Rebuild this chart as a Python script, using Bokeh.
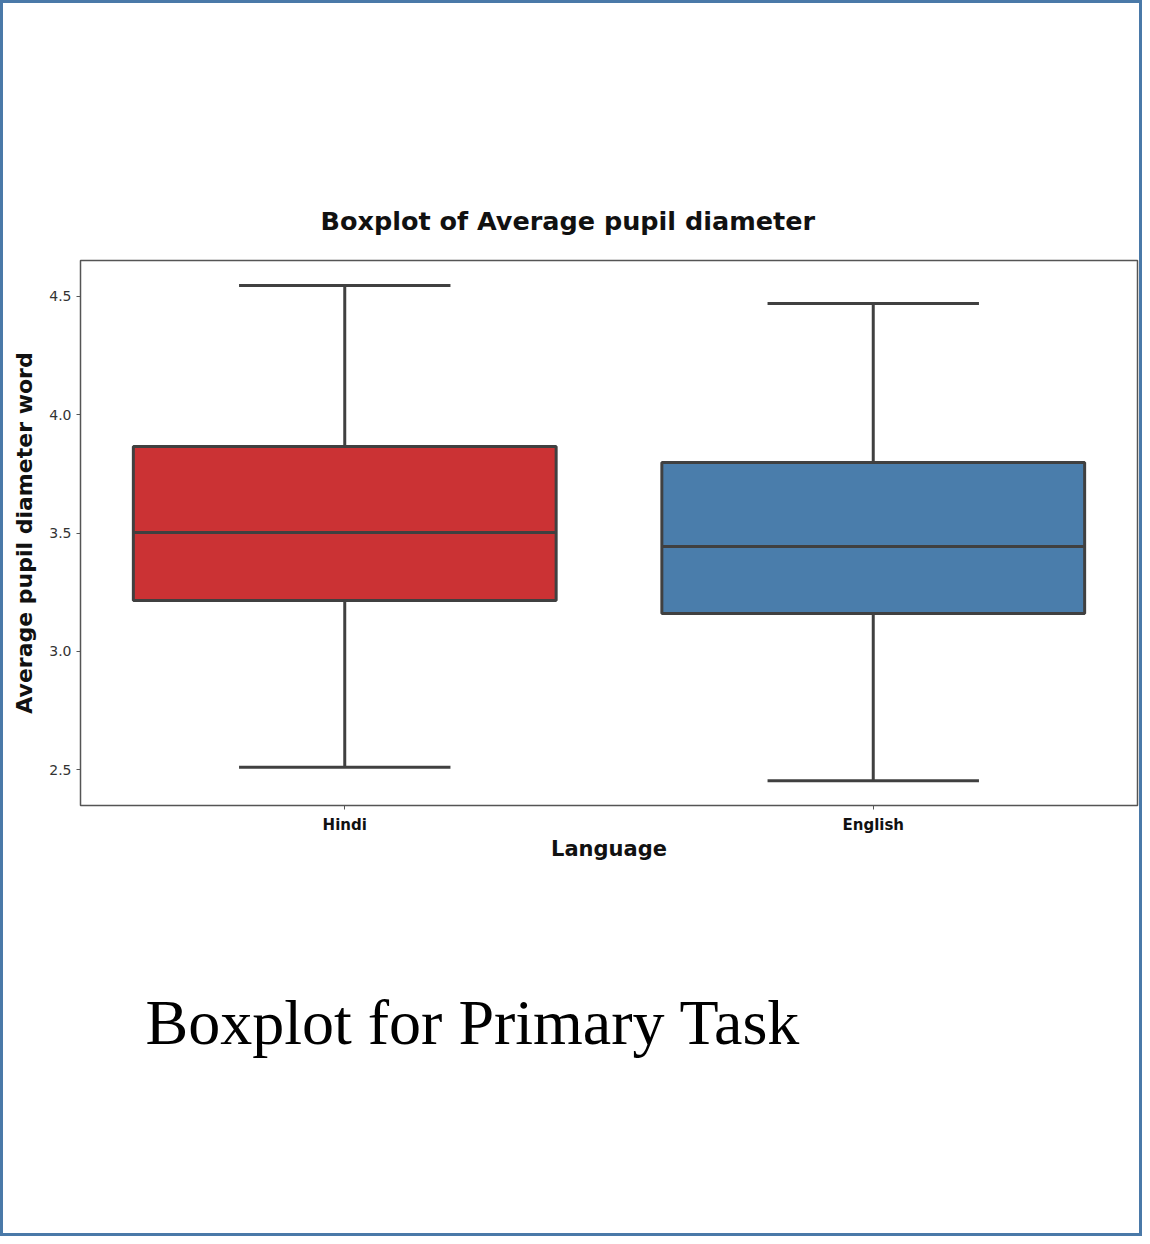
from bokeh.plotting import figure
from bokeh.models import (ColumnDataSource, FactorRange, Range1d, FixedTicker,
                          PrintfTickFormatter, Title)
from bokeh.transform import dodge
from bokeh.embed import file_html
from bokeh.resources import INLINE

# ---- data ----
languages = ["Hindi", "English"]
whisker_low = [2.51, 2.453]
q1 = [3.215, 3.160]
median = [3.502, 3.443]
q3 = [3.866, 3.798]
whisker_high = [4.546, 4.470]
box_colors = ["#cb3234", "#4a7dab"]
y_ticks = [2.5, 3.0, 3.5, 4.0, 4.5]

title_text = "Boxplot of Average pupil diameter"
x_label = "Language"
y_label = "Average pupil diameter word"
caption_text = "Boxplot for Primary Task"

src = ColumnDataSource(dict(lang=languages, lo=whisker_low, q1=q1, q2=median,
                            q3=q3, hi=whisker_high, color=box_colors))

W, H = 1142, 1236
p = figure(width=W, height=H, output_backend="svg", toolbar_location=None,
           x_range=FactorRange(factors=languages), y_range=Range1d(2.348, 4.652),
           min_border_left=80, min_border_right=5, min_border_top=260,
           min_border_bottom=431)

# page frame (light blue border around the whole picture)
p.styles = {"background-color": "white",
            "box-shadow": "inset 0 0 0 3px #4a79a8"}

edge = "#404040"
lw = 3

# whiskers
p.segment(x0="lang", y0="q3", x1="lang", y1="hi", source=src, line_color=edge, line_width=lw)
p.segment(x0="lang", y0="lo", x1="lang", y1="q1", source=src, line_color=edge, line_width=lw)
# caps
p.segment(x0=dodge("lang", -0.2, range=p.x_range), y0="hi",
          x1=dodge("lang", 0.2, range=p.x_range), y1="hi", source=src,
          line_color=edge, line_width=lw)
p.segment(x0=dodge("lang", -0.2, range=p.x_range), y0="lo",
          x1=dodge("lang", 0.2, range=p.x_range), y1="lo", source=src,
          line_color=edge, line_width=lw)
# boxes
p.vbar(x="lang", width=0.8, bottom="q1", top="q3", source=src,
       fill_color="color", line_color=edge, line_width=lw)
# medians
p.segment(x0=dodge("lang", -0.4, range=p.x_range), y0="q2",
          x1=dodge("lang", 0.4, range=p.x_range), y1="q2", source=src,
          line_color=edge, line_width=lw)

# frame / grid
p.xgrid.visible = False
p.ygrid.visible = False
p.outline_line_color = "#555555"
p.outline_line_width = 1.5
p.background_fill_color = "white"
p.border_fill_color = None

# axes
for ax in (p.xaxis[0], p.yaxis[0]):
    ax.axis_line_color = None
    ax.major_tick_in = 0
    ax.major_tick_out = 4
    ax.major_tick_line_color = "#555555"
    ax.minor_tick_line_color = None
    ax.axis_label_text_font = "DejaVu Sans"
    ax.axis_label_text_font_style = "bold"
    ax.axis_label_text_font_size = "21px"
    ax.axis_label_text_color = "#111111"
    ax.major_label_text_font = "DejaVu Sans"

p.yaxis.ticker = FixedTicker(ticks=y_ticks)
p.yaxis.formatter = PrintfTickFormatter(format="%.1f")
p.yaxis.axis_label = y_label
p.yaxis.axis_label_text_font_size = "22px"
p.yaxis.major_label_text_font_size = "14px"
p.yaxis.major_label_text_color = "#333333"
p.yaxis.major_label_standoff = 5
p.yaxis.axis_label_standoff = 9

p.xaxis.axis_label = x_label
p.xaxis.major_label_text_font_size = "15px"
p.xaxis.major_label_text_font_style = "bold"
p.xaxis.major_label_text_color = "#111111"
p.xaxis.major_label_standoff = 6
p.xaxis.axis_label_standoff = 0

title = Title(text=title_text, text_font="DejaVu Sans", text_font_size="25.5px",
              text_font_style="bold", text_color="#111111", align="left",
              offset=240, standoff=49)
p.add_layout(title, "above")

caption = Title(text=caption_text, text_font="Liberation Serif", text_font_size="64px",
                text_font_style="normal", text_color="black", align="left",
                offset=65, standoff=242)
p.add_layout(caption, "below")

open("out.html", "w").write(file_html(p, INLINE))
